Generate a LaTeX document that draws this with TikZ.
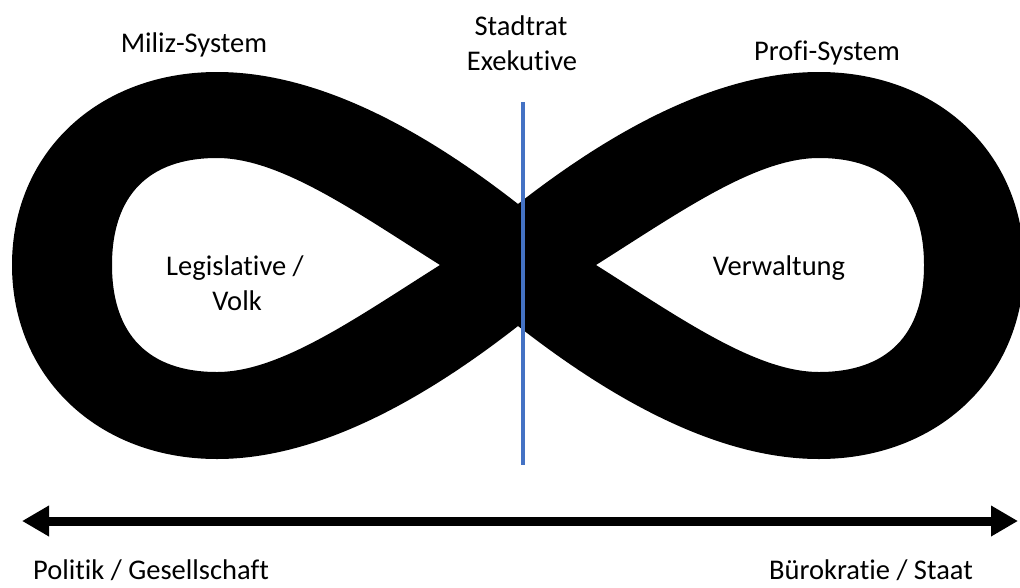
\documentclass[tikz,border=0pt]{standalone}
\usepackage{fontspec}
\setmainfont{Carlito}[Ligatures=NoCommon, RawFeature=-clig]
\usetikzlibrary{arrows.meta}
\definecolor{lineblue}{HTML}{4472C4}
\tikzset{
  lbl/.style={font=\fontsize{28.5}{34}\selectfont, inner sep=0pt, anchor=base},
  band/.style={fill=black, even odd rule},
  axisarrow/.style={line width=9pt, {Triangle[length=27pt,width=29pt]}-{Triangle[length=27pt,width=29pt]}},
  divider/.style={draw=lineblue, line width=4.3pt}
}
\begin{document}
\begin{tikzpicture}[x=1pt,y=-1pt]
\useasboundingbox (0,0) rectangle (1020,587);
\clip (0,0) rectangle (1020,587);
% infinity band
\path[band]
  (518,204) .. controls (399,111) and (300,72) .. (217,72)
  .. controls (98,72) and (12,153) .. (12,265)
  .. controls (12,377) and (98,459) .. (217,459)
  .. controls (300,459) and (399,419) .. (518,326)
  .. controls (637,419) and (736,459) .. (819,459)
  .. controls (938,459) and (1024,377) .. (1024,265)
  .. controls (1024,153) and (938,72) .. (819,72)
  .. controls (736,72) and (637,111) .. (518,204) -- cycle
  (440,265) .. controls (356,212) and (280,158) .. (217,158)
  .. controls (149,158) and (112,195) .. (112,265)
  .. controls (112,335) and (149,372) .. (217,372)
  .. controls (280,372) and (356,318) .. (440,265) -- cycle
  (596,265) .. controls (680,212) and (756,158) .. (819,158)
  .. controls (887,158) and (924,195) .. (924,265)
  .. controls (924,335) and (887,372) .. (819,372)
  .. controls (756,372) and (680,318) .. (596,265) -- cycle;
% divider
\coordinate (bt) at (523,102);
\coordinate (bb) at (523,465);
\draw[divider] (bt) -- (bb);
% axis arrow
\coordinate (al) at (22,521);
\coordinate (ar) at (1018,521);
\draw[axisarrow] (al) -- (ar);
% labels
\node[lbl] (miliz) at (194,52) {Miliz-System};
\node[lbl] (stadtrat) at (521,35) {Stadtrat};
\node[lbl] (exek) at (522,70) {Exekutive};
\node[lbl] (profi) at (827,60) {Profi-System};
\node[lbl] (legis) at (235,275) {Legislative /};
\node[lbl] (volk) at (237,310) {Volk};
\node[lbl] (verw) at (779,275) {Verwaltung};
\node[lbl] (politik) at (151,579) {Politik / Gesellschaft};
\node[lbl] (buero) at (871,579) {Bürokratie / Staat};
\end{tikzpicture}
\end{document}
